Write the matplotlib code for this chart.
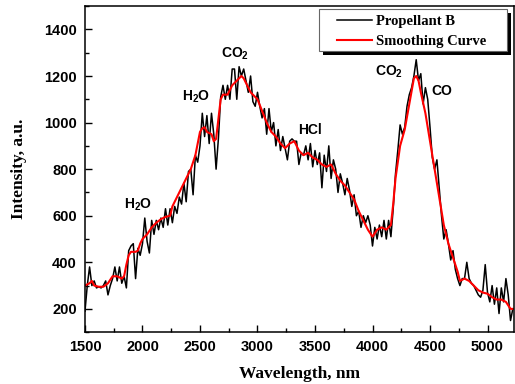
import matplotlib.pyplot as plt
from matplotlib.patches import Rectangle
from matplotlib.ticker import MultipleLocator

# raw spectrum, Propellant B (20 nm steps)
wl_raw = list(range(1500, 5221, 20))
intensity_raw = [
    190, 300, 380, 300, 320, 290, 295, 290, 300, 320,
    260, 300, 330, 380, 320, 380, 310, 340, 290, 450,
    470, 480, 330, 460, 430, 480, 590, 490, 440, 580,
    520, 580, 540, 590, 550, 630, 560, 630, 570, 640,
    610, 680, 650, 740, 660, 790, 800, 690, 860, 830,
    900, 1040, 940, 1030, 910, 1040, 950, 800, 930, 1110,
    1160, 1100, 1160, 1100, 1230, 1230, 1100, 1240, 1200, 1230,
    1180, 1130, 1200, 1090, 1070, 1130, 1070, 1020, 1060, 950,
    1060, 960, 1000, 900, 970, 880, 940, 890, 840, 920,
    930, 920, 920, 820, 870, 860, 900, 840, 910, 810,
    880, 820, 870, 720, 860, 790, 900, 760, 840, 800,
    700, 780, 740, 690, 760, 710, 640, 690, 600, 620,
    550, 600, 570, 600, 560, 470, 550, 500, 560, 510,
    580, 500, 580, 510, 630, 780, 880, 990, 950, 980,
    1070, 1120, 1150, 1200, 1270, 1180, 1210, 1080, 1150, 1100,
    980, 850, 800, 840, 720, 600, 500, 540, 480, 410,
    450, 370, 330, 300, 330, 330, 400, 330, 310, 300,
    280, 260, 250, 280, 390, 270, 230, 300, 220, 290,
    180, 290, 230, 330, 260, 150, 200,
]

# smoothing curve
wl_smooth = [
    1500, 1540, 1560, 1580, 1620, 1660, 1700, 1740, 1780, 1820,
    1840, 1860, 1880, 1900, 1940, 1960, 1980, 2000, 2040, 2080,
    2120, 2160, 2200, 2240, 2260, 2300, 2340, 2380, 2420, 2460,
    2500, 2520, 2540, 2560, 2600, 2620, 2640, 2680, 2700, 2740,
    2780, 2820, 2860, 2880, 2900, 2940, 2980, 3000, 3040, 3080,
    3120, 3160, 3200, 3240, 3280, 3320, 3360, 3400, 3440, 3480,
    3520, 3560, 3600, 3640, 3680, 3720, 3760, 3800, 3840, 3880,
    3920, 3960, 4000, 4040, 4080, 4120, 4160, 4180, 4200, 4240,
    4280, 4320, 4360, 4380, 4400, 4420, 4460, 4500, 4540, 4580,
    4620, 4660, 4700, 4740, 4760, 4800, 4840, 4880, 4920, 4960,
    5000, 5040, 5080, 5120, 5160, 5200, 5220,
]
intensity_smooth = [
    300, 310, 320, 300, 295, 295, 310, 340, 340, 330,
    340, 390, 430, 445, 445, 450, 480, 500, 520, 550,
    570, 585, 595, 600, 640, 680, 720, 760, 800, 860,
    960, 975, 980, 960, 950, 920, 930, 1100, 1120, 1120,
    1160, 1180, 1200, 1190, 1170, 1130, 1110, 1100, 1050, 1000,
    960, 940, 910, 890, 910, 920, 880, 860, 870, 850,
    840, 820, 810, 820, 780, 750, 730, 700, 670, 620,
    580, 540, 510, 540, 550, 540, 560, 650, 760, 900,
    970, 1080, 1190, 1200, 1180, 1130, 1040, 920, 800, 680,
    560, 480, 420, 360, 320, 330, 320, 300, 280, 270,
    265, 250, 240, 240, 230, 200, 200,
]

# band labels: (text, x, y)
bands = [
    (r'H$_\mathbf{2}$O', 1965, 645),
    (r'H$_\mathbf{2}$O', 2464, 1111),
    (r'CO$_\mathbf{2}$', 2807, 1297),
    ('HCl', 3460, 968),
    (r'CO$_\mathbf{2}$', 4143, 1218),
    ('CO', 4599, 1137),
]

plt.rcParams['mathtext.fontset'] = 'custom'
plt.rcParams['mathtext.bf'] = 'Liberation Sans:bold'
plt.rcParams['mathtext.rm'] = 'Liberation Sans:bold'

fig = plt.figure(figsize=(5.15, 3.84), dpi=100)
ax = fig.add_axes([0.165, 0.135, 0.833, 0.849])

ax.plot(wl_raw, intensity_raw, color='black', lw=1.1, label='Propellant B')
ax.plot(wl_smooth, intensity_smooth, color='red', lw=1.5, label='Smoothing Curve')

for txt, x, y in bands:
    ax.text(x, y, txt, ha='center', va='center', fontsize=10,
            fontweight='bold', family='Liberation Sans')

ax.set_xlim(1500, 5230)
ax.set_ylim(100, 1500)
ax.xaxis.set_major_locator(MultipleLocator(500))
ax.xaxis.set_minor_locator(MultipleLocator(250))
ax.yaxis.set_major_locator(MultipleLocator(200))
ax.yaxis.set_minor_locator(MultipleLocator(100))
ax.tick_params(which='both', direction='in', width=1.0)
ax.tick_params(which='major', length=5, pad=6)
ax.tick_params(which='minor', length=3)
for lab in ax.get_xticklabels() + ax.get_yticklabels():
    lab.set_fontfamily('Liberation Sans')
    lab.set_fontweight('bold')
    lab.set_fontsize(10.5)
for sp in ax.spines.values():
    sp.set_linewidth(1.1)

ax.set_xlabel('Wavelength, nm', family='Liberation Serif', fontweight='bold',
              fontsize=12.5, labelpad=8)
ax.set_ylabel('Intensity, a.u.', family='Liberation Serif', fontweight='bold',
              fontsize=12.5, labelpad=12)

# legend box with a solid drop shadow, like the original
box_x, box_y, box_w, box_h = 0.545, 0.862, 0.439, 0.129
ax.add_patch(Rectangle((box_x + 0.0095, box_y - 0.0125), box_w, box_h,
                       transform=ax.transAxes, facecolor='black',
                       edgecolor='none', zorder=4, clip_on=False))
ax.add_patch(Rectangle((box_x, box_y), box_w, box_h, transform=ax.transAxes,
                       facecolor='white', edgecolor='#666666', lw=0.8,
                       zorder=4.5, clip_on=False))
leg = ax.legend(loc='upper left', bbox_to_anchor=(0.587, 0.972), borderaxespad=0,
                borderpad=0, frameon=False, handlelength=2.4, handletextpad=0.3,
                labelspacing=0.45, prop={'family': 'Liberation Serif',
                                         'weight': 'bold', 'size': 10.5})
leg.set_zorder(5)

fig.savefig('out.png', dpi=100)
